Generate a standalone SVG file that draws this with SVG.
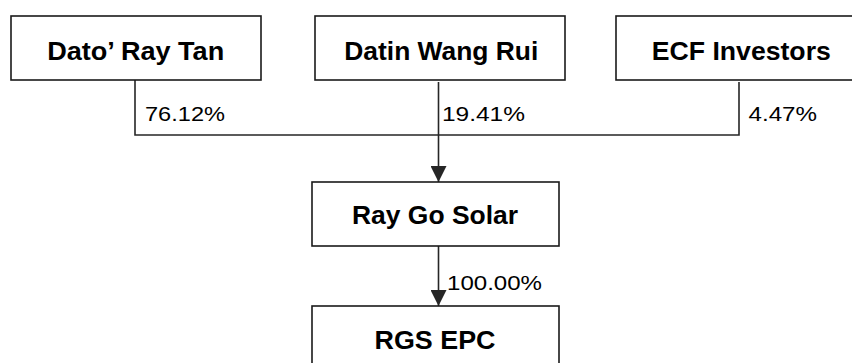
<svg xmlns="http://www.w3.org/2000/svg" width="852" height="363" viewBox="0 0 852 363">
  <style>
    .box { fill: #ffffff; stroke: #1a1a1a; stroke-width: 1.6; }
    .name { font-family: "Liberation Sans", Arial, sans-serif; font-weight: bold; font-size: 25px; fill: #000000; text-anchor: middle; }
    .pct { font-family: "Liberation Sans", Arial, sans-serif; font-size: 20px; fill: #000000; }
    .conn { fill: none; stroke: #262626; stroke-width: 1.6; }
  </style>
  <defs>
    <marker id="arrow" markerUnits="userSpaceOnUse" markerWidth="16" markerHeight="16" refX="16" refY="8" orient="auto" viewBox="0 0 16 16">
      <path d="M0,0 L16,8 L0,16 z" fill="#262626"/>
    </marker>
  </defs>
  <rect x="0" y="0" width="852" height="363" fill="#ffffff"/>

  <g id="connectors">
    <path class="conn" d="M135,80 V135 H739 V82"/>
    <path class="conn" d="M438.5,82 V182" marker-end="url(#arrow)"/>
    <path class="conn" d="M438.5,246 V306" marker-end="url(#arrow)"/>
    <text class="pct" x="145" y="120.5" textLength="80" lengthAdjust="spacingAndGlyphs">76.12%</text>
    <text class="pct" x="442" y="120.5" textLength="83" lengthAdjust="spacingAndGlyphs">19.41%</text>
    <text class="pct" x="748.5" y="120.5" textLength="68.5" lengthAdjust="spacingAndGlyphs">4.47%</text>
    <text class="pct" x="447" y="290" textLength="95" lengthAdjust="spacingAndGlyphs">100.00%</text>
  </g>

  <g id="dato-ray-tan">
    <rect class="box" x="11" y="16" width="250" height="64"/>
    <text class="name" x="135.7" y="59.5" textLength="177" lengthAdjust="spacingAndGlyphs">Dato’ Ray Tan</text>
  </g>
  <g id="datin-wang-rui">
    <rect class="box" x="315" y="16" width="250" height="64"/>
    <text class="name" x="441.3" y="59.5" textLength="194" lengthAdjust="spacingAndGlyphs">Datin Wang Rui</text>
  </g>
  <g id="ecf-investors">
    <rect class="box" x="616" y="16" width="240" height="64"/>
    <text class="name" x="741.3" y="59.5" textLength="179" lengthAdjust="spacingAndGlyphs">ECF Investors</text>
  </g>
  <g id="ray-go-solar">
    <rect class="box" x="312" y="182" width="247" height="64"/>
    <text class="name" x="435" y="223.5" textLength="166" lengthAdjust="spacingAndGlyphs">Ray Go Solar</text>
  </g>
  <g id="rgs-epc">
    <rect class="box" x="312" y="306" width="247" height="64"/>
    <text class="name" x="435" y="348.5" textLength="121" lengthAdjust="spacingAndGlyphs">RGS EPC</text>
  </g>
</svg>
